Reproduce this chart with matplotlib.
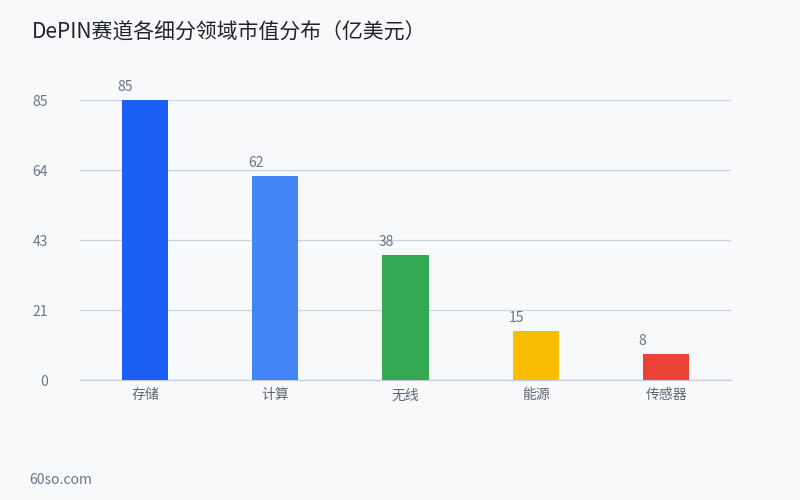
import numpy as np
import matplotlib
matplotlib.use("Agg")
import matplotlib.pyplot as plt
from matplotlib.transforms import offset_copy

plt.rcParams['font.family'] = ['Noto Sans CJK SC', 'DejaVu Sans']

categories = ['存储', '计算', '无线', '能源', '传感器']
values = [85, 62, 38, 15, 8]
colors = ['#1c5ff5', '#4285f4', '#34a853', '#fbbc04', '#ea4335']
ytick_values = np.linspace(0, 85, 5)
ytick_labels = ['0', '21', '43', '64', '85']

bg = '#f8f9fb'
fig = plt.figure(figsize=(8, 5), dpi=100, facecolor=bg)
ax = fig.add_axes([0.1, 0.24, 0.814, 0.56], facecolor=bg)

x = np.arange(len(categories))
width = 0.355
ax.bar(x, values, width=width, color=colors, zorder=3)

ax.set_xlim(-0.5, len(categories) - 0.5)
ax.set_ylim(0, 85)
ax.set_yticks(ytick_values)
ax.set_yticklabels(ytick_labels)
ax.set_xticks(x)
ax.set_xticklabels(categories)
ax.tick_params(axis='y', length=0, pad=23, labelsize=10, labelcolor='#6b7385')
ax.tick_params(axis='x', length=0, pad=6, labelsize=10, labelcolor='#5f6573')
for lbl in ax.get_yticklabels():
    lbl.set_horizontalalignment('right')

ax.grid(axis='y', color='#ccd3e0', linewidth=0.9, zorder=0)
ax.set_axisbelow(True)
for s in ['top', 'right', 'left']:
    ax.spines[s].set_visible(False)
ax.spines['bottom'].set_color('#c5ccda')
ax.spines['bottom'].set_linewidth(0.9)

for xi, v in zip(x, values):
    trans = offset_copy(ax.transData, fig=fig, x=-3, y=4, units='points')
    ax.text(xi - width / 2, v, str(v), transform=trans, ha='left', va='bottom',
            fontsize=10, color='#6b7385')

fig.text(0.04, 0.934, 'DePIN赛道各细分领域市值分布（亿美元）', fontsize=15,
         color='#1f2329', va='center', ha='left')
fig.text(0.037, 0.04, '60so.com', fontsize=10, color='#6b7385', va='center', ha='left')

fig.savefig('out.png', dpi=100, facecolor=bg)
